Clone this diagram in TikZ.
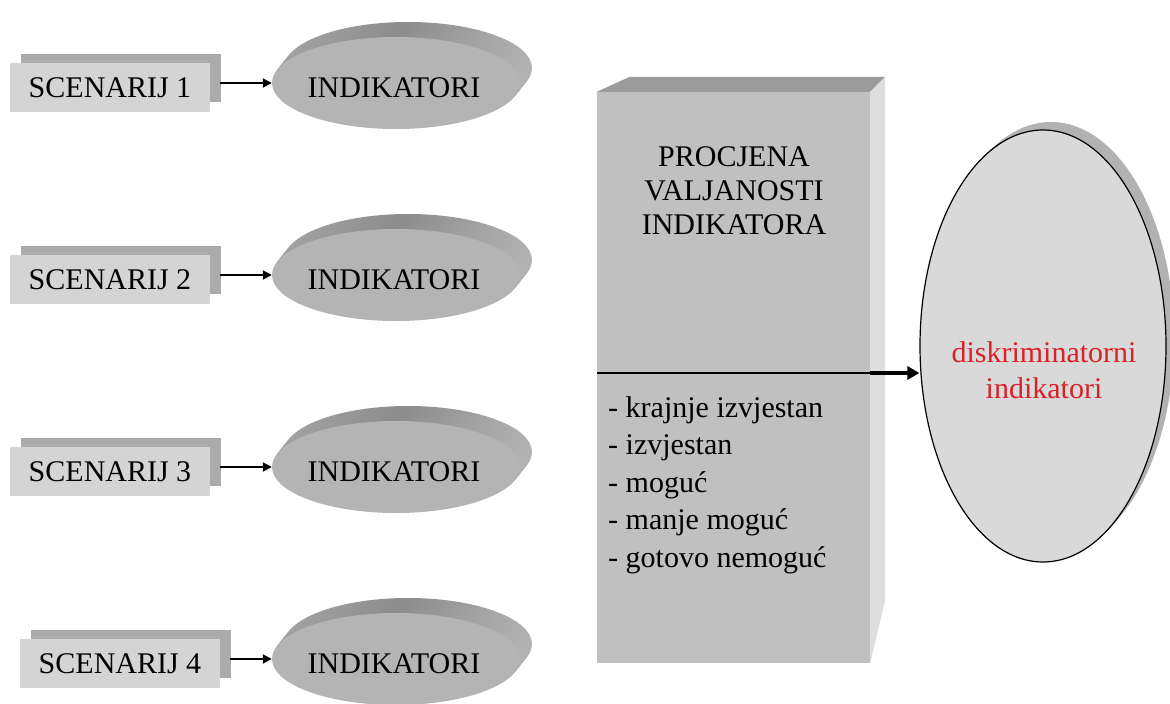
\documentclass[tikz,border=0pt]{standalone}
\usepackage{fontspec}
\setmainfont{Liberation Serif}
\usetikzlibrary{arrows.meta,shapes.geometric,calc}

\definecolor{boxfront}{HTML}{D4D4D4}
\definecolor{boxback}{HTML}{ABABAB}
\definecolor{ellfront}{HTML}{B4B4B4}
\definecolor{extdark}{HTML}{8C8C8C}
\definecolor{extleft}{HTML}{A4A4A4}
\definecolor{extright}{HTML}{B2B2B2}
\definecolor{blkfront}{HTML}{C0C0C0}
\definecolor{blktop}{HTML}{9B9B9B}
\definecolor{blkside}{HTML}{DEDEDE}
\definecolor{discfill}{HTML}{D9D9D9}
\definecolor{discshadow}{HTML}{B2B2B2}
\definecolor{discred}{RGB}{218,32,40}

\begin{document}
\begin{tikzpicture}[x=1pt,y=-1pt,
  txt/.style={font=\fontsize{30}{36}\selectfont, inner sep=0pt},
  caps/.style={txt, text height=20pt, text depth=0pt},
  backbox/.style={fill=boxback, minimum width=200pt, minimum height=48pt, inner sep=0pt},
  frontbox/.style={caps, fill=boxfront, minimum width=200pt, minimum height=49pt},
  extstep/.style={left color=extleft, right color=extright, middle color=extdark},
  frontell/.style={ellipse, fill=ellfront, minimum width=248pt, minimum height=92pt, inner sep=0pt},
  sarrow/.style={line width=1.8pt, -{Triangle[length=9pt,width=9pt]}},
  barrow/.style={line width=3.2pt, -{Triangle[length=12pt,width=13pt]}},
  divider/.style={line width=1.2pt},
]
\useasboundingbox (0,0) rectangle (1170,704);

% four scenario rows: stacked box, arrow, extruded ellipse
\foreach \r/\B/\dx in {1/87.5/0, 2/279.5/0, 3/471.5/0, 4/663.5/10}{
  \node[backbox] (s\r b) at (121+\dx, \B-10) {};
  \node[frontbox] (s\r) at (110+\dx, \B) {SCENARIJ \r};
  \foreach \k in {15,14,...,1}
    \path[extstep] (396+0.8*\k, \B-4.5-\k) ellipse [x radius=124, y radius=46];
  \node[frontell] (i\r) at (396, \B-4.5) {};
  \node[caps] (t\r) at (394, \B) {INDIKATORI};
  \draw[sarrow] ([xshift=10pt]s\r.east |- i\r.west) -- (i\r.west);
}

% assessment block drawn as a box with top and side faces
\node[fill=blkfront, minimum width=273pt, minimum height=571pt, inner sep=0pt] (blk) at (733.5, 377.5) {};
\fill[blktop] (blk.north west) -- ++(33,-15) -- ([xshift=15pt,yshift=15pt]blk.north east) -- (blk.north east) -- cycle;
\fill[blkside] (blk.north east) -- ++(15,-15) -- ++(0,523) -- (blk.south east) -- cycle;

\node[caps] (p1) at (734,156) {PROCJENA};
\node[caps] (p2) at (734,190) {VALJANOSTI};
\node[caps] (p3) at (734,224) {INDIKATORA};

\node[txt, anchor=base west] (l1) at (608,417) {- krajnje izvjestan};
\node[txt, anchor=base west] (l2) at (608,454) {- izvjestan};
\node[txt, anchor=base west] (l3) at (608,492) {- moguć};
\node[txt, anchor=base west] (l4) at (608,529) {- manje moguć};
\node[txt, anchor=base west] (l5) at (608,567) {- gotovo nemoguć};

% result ellipse with its shadow
\fill[discshadow] (1051,338) ellipse [x radius=123, y radius=216];
\node[ellipse, fill=discfill, draw, line width=1.2pt, minimum width=246pt, minimum height=432pt, inner sep=0pt] (disc) at (1043,346) {};
\node[txt, text=discred, anchor=base] (d1) at (1044,362) {diskriminatorni};
\node[txt, text=discred, anchor=base] (d2) at (1044,398) {indikatori};

% divider and output arrow
\coordinate (lvl) at (0,373);
\draw[divider] (blk.west |- lvl) -- (blk.east |- lvl);
\draw[barrow] (blk.east |- lvl) -- (disc.west |- lvl);
\end{tikzpicture}
\end{document}
